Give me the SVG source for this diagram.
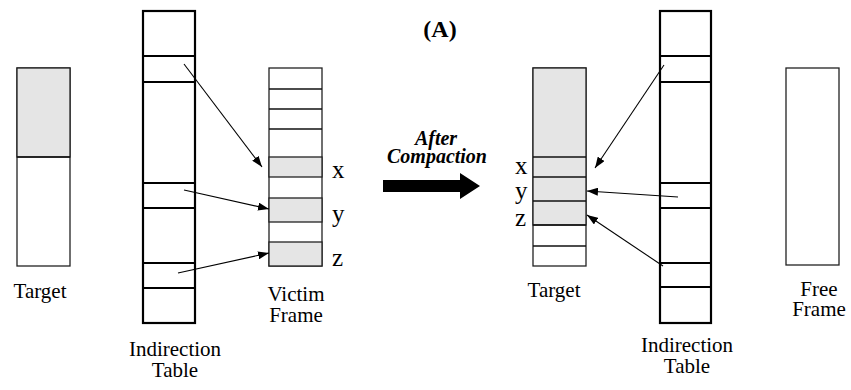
<svg xmlns="http://www.w3.org/2000/svg" width="851" height="390" viewBox="0 0 851 390">
<style>
.tbl{fill:#fff;stroke:#000;stroke-width:2.2}
.tl{stroke:#000;stroke-width:2.2}
.frm{fill:#fff;stroke:#222;stroke-width:1.3}
.g{fill:#e5e5e5;stroke:#222;stroke-width:1.3}
.fl{stroke:#111;stroke-width:1.3}
.lbl{font-family:"Liberation Serif",serif;font-size:21px;fill:#000;text-anchor:middle}
.var{font-family:"Liberation Serif",serif;font-size:25px;fill:#000}
.conn line{stroke:#000;stroke-width:1.1;fill:none}
</style>
<defs>
<marker id="ah" markerWidth="12" markerHeight="8" refX="11" refY="4" orient="auto" markerUnits="userSpaceOnUse">
<path d="M0,0 L11,4 L0,8 Z" fill="#000"/>
</marker>
</defs>
<rect width="851" height="390" fill="#fff"/>

<g id="target-left">
<rect class="frm" x="17" y="68" width="53" height="198"/>
<rect class="g" x="17" y="68" width="53" height="89"/>
<line class="fl" x1="17" y1="157" x2="70" y2="157"/>
<text class="lbl" x="40" y="298">Target</text>
</g>

<g id="indirection-left">
<rect class="tbl" x="143" y="11" width="52" height="312"/>
<line class="tl" x1="143" y1="56" x2="195" y2="56"/>
<line class="tl" x1="143" y1="82" x2="195" y2="82"/>
<line class="tl" x1="143" y1="183" x2="195" y2="183"/>
<line class="tl" x1="143" y1="208" x2="195" y2="208"/>
<line class="tl" x1="143" y1="263" x2="195" y2="263"/>
<line class="tl" x1="143" y1="288" x2="195" y2="288"/>
<text class="lbl" x="175" y="356">Indirection</text>
<text class="lbl" x="175" y="377">Table</text>
</g>

<g id="victim-frame">
<rect class="frm" x="269" y="68" width="53" height="198"/>
<rect class="g" x="269" y="157" width="53" height="20"/>
<rect class="g" x="269" y="198" width="53" height="24"/>
<rect class="g" x="269" y="242" width="53" height="24"/>
<line class="fl" x1="269" y1="89" x2="322" y2="89"/>
<line class="fl" x1="269" y1="109" x2="322" y2="109"/>
<line class="fl" x1="269" y1="129" x2="322" y2="129"/>
<text class="var" x="332" y="178">x</text>
<text class="var" x="332" y="222">y</text>
<text class="var" x="332" y="266">z</text>
<text class="lbl" x="296" y="301">Victim</text>
<text class="lbl" x="296" y="322">Frame</text>
</g>

<g id="title">
<text x="440" y="37" font-family="'Liberation Serif',serif" font-size="24" font-weight="bold" text-anchor="middle">(A)</text>
</g>

<g id="after-compaction">
<text x="436" y="145" font-family="'Liberation Serif',serif" font-size="20" font-weight="bold" font-style="italic" text-anchor="middle">After</text>
<text x="437" y="163" font-family="'Liberation Serif',serif" font-size="20" font-weight="bold" font-style="italic" text-anchor="middle">Compaction</text>
<polygon points="383,180 460,180 460,173 480,186 460,199 460,192 383,192" fill="#000"/>
</g>

<g id="target-right">
<rect class="frm" x="533" y="68" width="53" height="198"/>
<rect class="g" x="533" y="68" width="53" height="157"/>
<line class="fl" x1="533" y1="157" x2="586" y2="157"/>
<line class="fl" x1="533" y1="177" x2="586" y2="177"/>
<line class="fl" x1="533" y1="201" x2="586" y2="201"/>
<line class="fl" x1="533" y1="225" x2="586" y2="225"/>
<line class="fl" x1="533" y1="246" x2="586" y2="246"/>
<text class="var" x="515" y="174">x</text>
<text class="var" x="515" y="199">y</text>
<text class="var" x="515" y="226">z</text>
<text class="lbl" x="554" y="297">Target</text>
</g>

<g id="indirection-right">
<rect class="tbl" x="660" y="11" width="51" height="312"/>
<line class="tl" x1="660" y1="56" x2="711" y2="56"/>
<line class="tl" x1="660" y1="82" x2="711" y2="82"/>
<line class="tl" x1="660" y1="183" x2="711" y2="183"/>
<line class="tl" x1="660" y1="208" x2="711" y2="208"/>
<line class="tl" x1="660" y1="263" x2="711" y2="263"/>
<line class="tl" x1="660" y1="287" x2="711" y2="287"/>
<text class="lbl" x="687" y="352">Indirection</text>
<text class="lbl" x="687" y="373">Table</text>
</g>

<g id="free-frame">
<rect class="frm" x="786" y="68" width="53" height="197"/>
<text class="lbl" x="819" y="296">Free</text>
<text class="lbl" x="819" y="316">Frame</text>
</g>

<g id="connectors" class="conn">
<line x1="184" y1="64" x2="262" y2="167" marker-end="url(#ah)"/>
<line x1="184" y1="190" x2="269" y2="209" marker-end="url(#ah)"/>
<line x1="178" y1="273" x2="269" y2="253" marker-end="url(#ah)"/>
<line x1="664" y1="65" x2="595" y2="168" marker-end="url(#ah)"/>
<line x1="678" y1="197" x2="587" y2="191" marker-end="url(#ah)"/>
<line x1="663" y1="266" x2="587" y2="215" marker-end="url(#ah)"/>
</g>
</svg>
